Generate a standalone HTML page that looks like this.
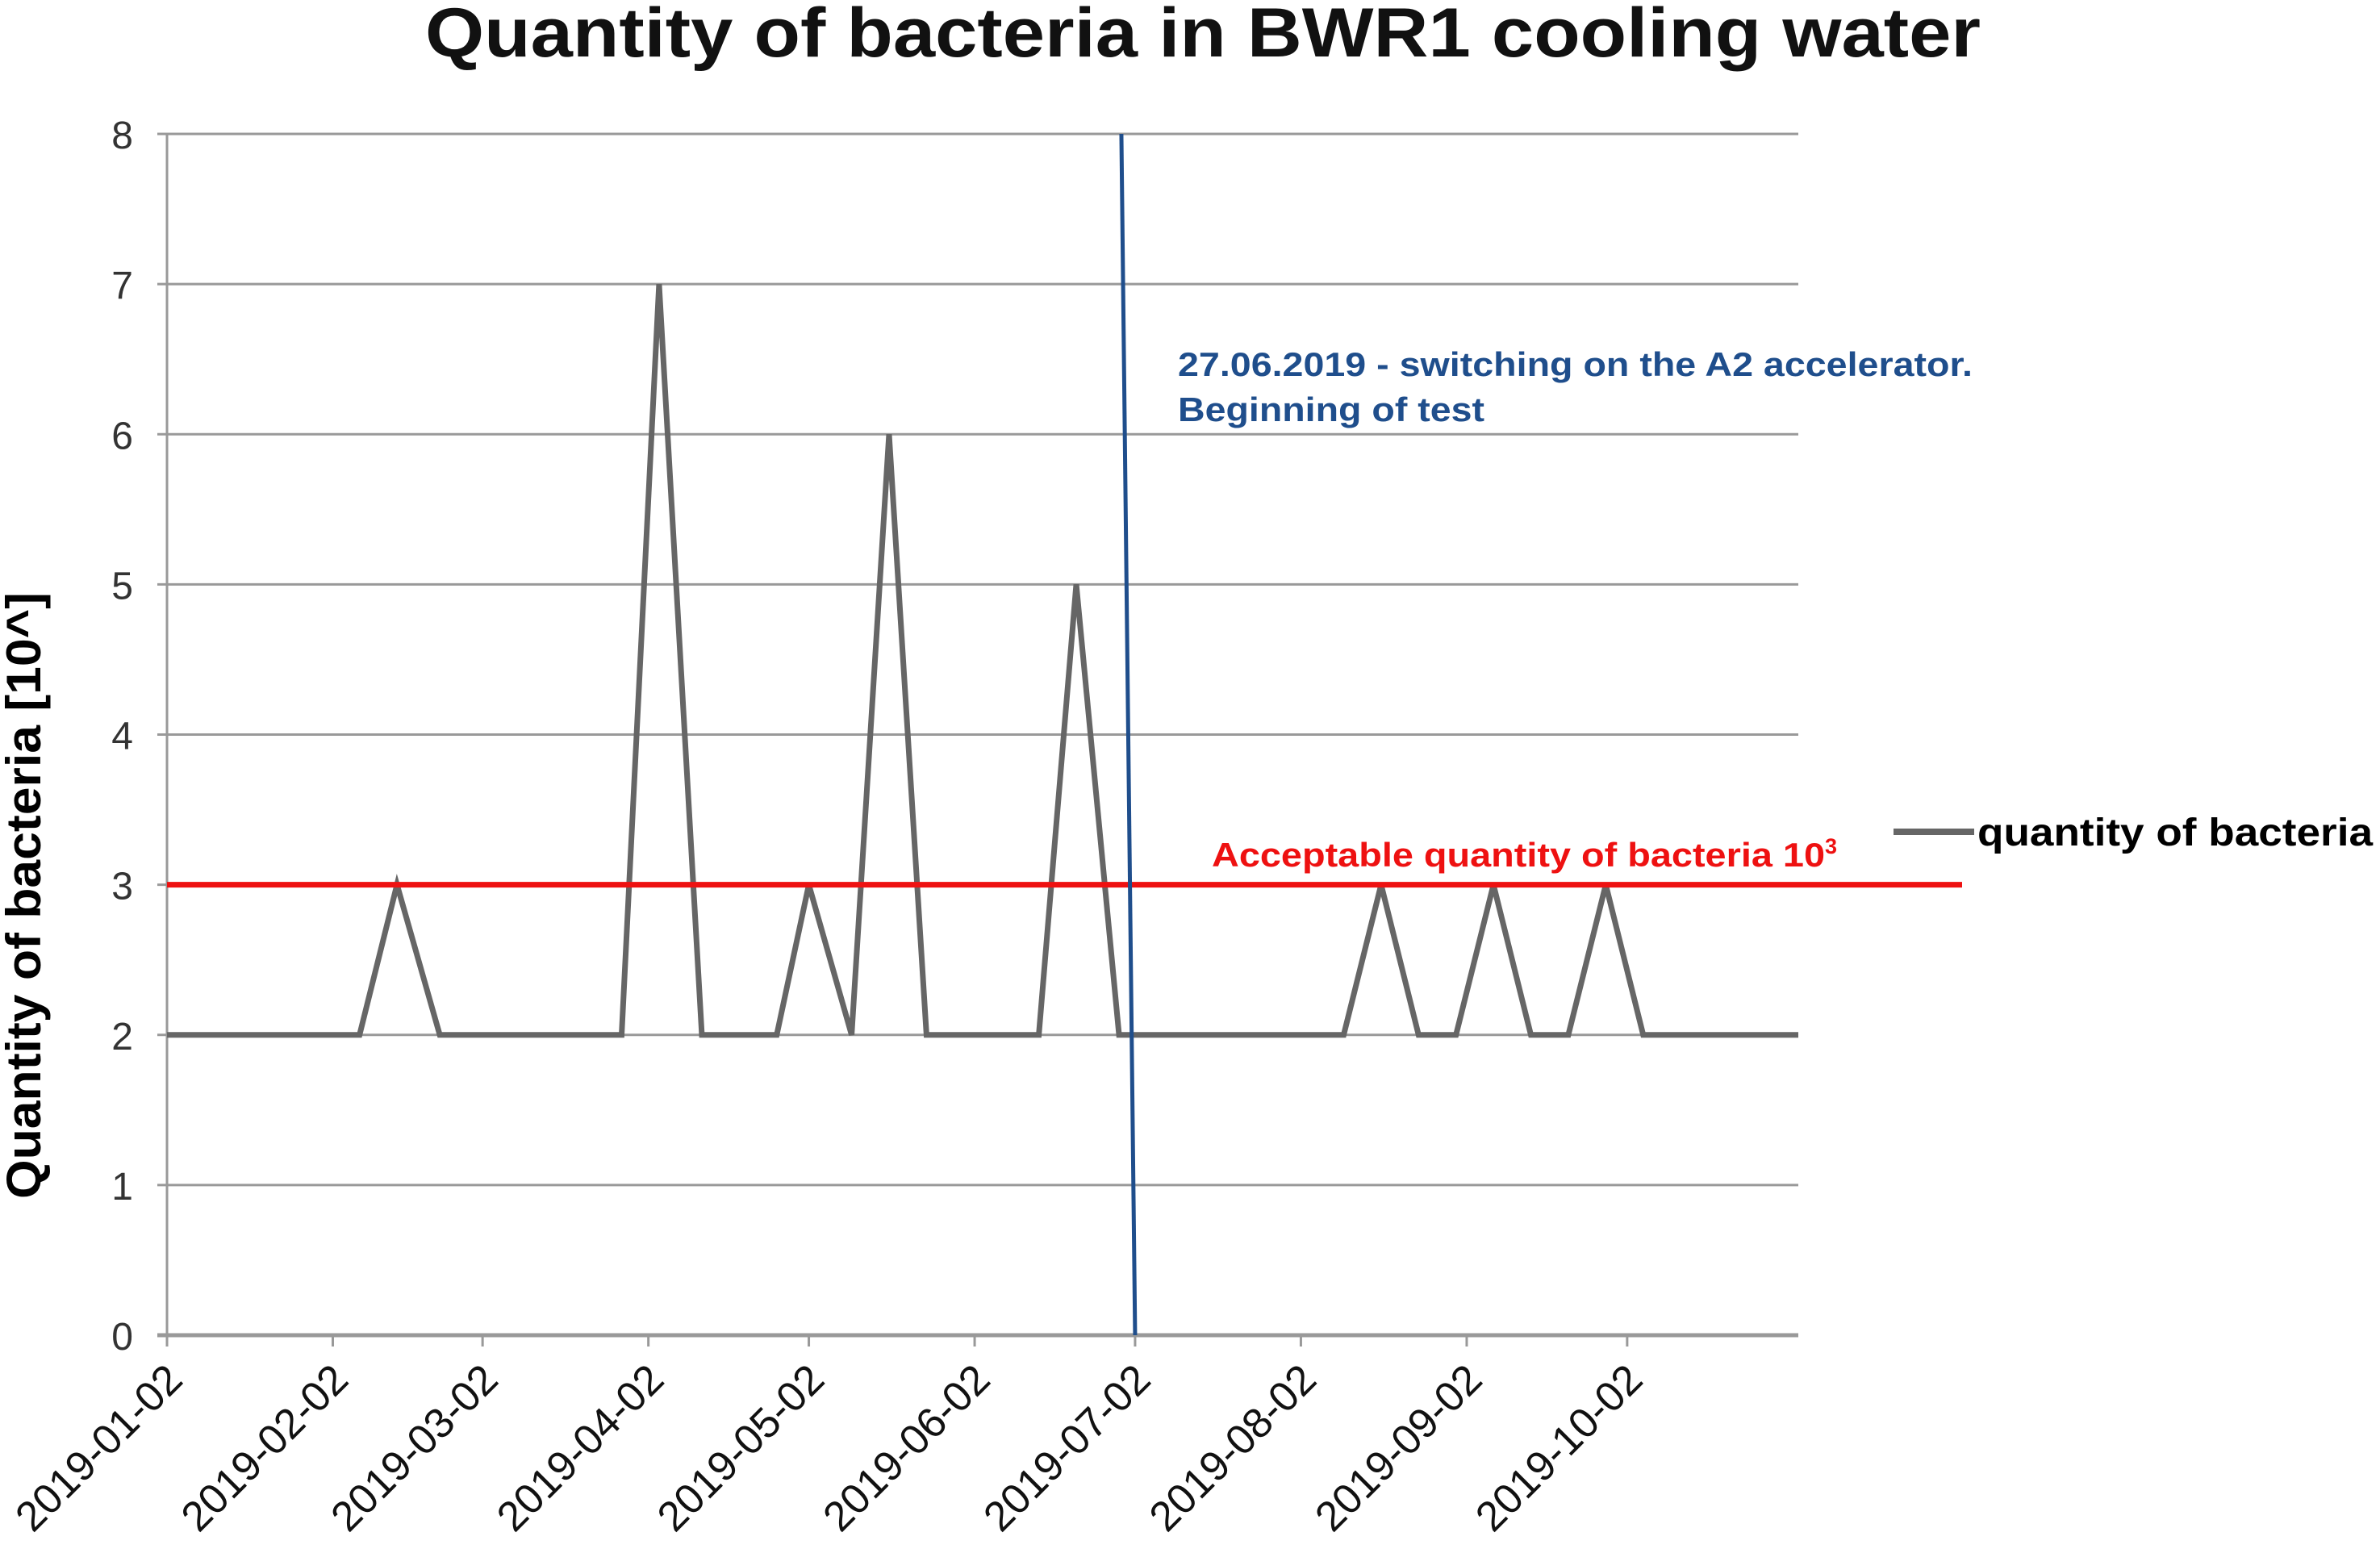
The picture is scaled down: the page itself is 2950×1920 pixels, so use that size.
<!DOCTYPE html>
<html><head><meta charset="utf-8"><style>
html,body{margin:0;padding:0;background:#fff;width:2950px;height:1920px;overflow:hidden}
svg{display:block;font-family:"Liberation Sans",Arial,sans-serif}
</style></head><body>
<svg id="chart" width="2950" height="1920" viewBox="0 0 2950 1920" xmlns="http://www.w3.org/2000/svg">
<text x="527" y="70" font-size="86" font-weight="bold" fill="#111" textLength="1928" lengthAdjust="spacingAndGlyphs">Quantity of bacteria in BWR1 cooling water</text>
<text transform="translate(50,1110) rotate(-90)" font-size="60" font-weight="bold" text-anchor="middle" fill="#000" textLength="752" lengthAdjust="spacingAndGlyphs">Quantity of bacteria [10^]</text>
<g id="grid"></g><g id="xticks"></g><g id="yticks"></g><g id="series"></g>
<line id="thr" stroke="#ee1111" stroke-width="7"/>
<text x="1502" y="1074" font-size="42" font-weight="bold" fill="#ee1111"><tspan textLength="760" lengthAdjust="spacingAndGlyphs">Acceptable quantity of bacteria 10</tspan><tspan font-size="27" dy="-16">3</tspan></text>
<line id="vline" stroke="#1f4e8c" stroke-width="5"/>
<text x="1460" y="466" font-size="42" font-weight="bold" fill="#1f4e8c" textLength="985" lengthAdjust="spacingAndGlyphs">27.06.2019 - switching on the A2 accelerator.</text>
<text x="1460" y="522" font-size="42" font-weight="bold" fill="#1f4e8c" textLength="380" lengthAdjust="spacingAndGlyphs">Beginning of test</text>
<line x1="2347" y1="1031" x2="2447" y2="1031" stroke="#666" stroke-width="8"/>
<text x="2451" y="1048" font-size="48" font-weight="bold" fill="#000" textLength="490" lengthAdjust="spacingAndGlyphs">quantity of bacteria</text>
</svg>
<script>
const tickLabels=["2019-01-02","2019-02-02","2019-03-02","2019-04-02","2019-05-02","2019-06-02","2019-07-02","2019-08-02","2019-09-02","2019-10-02"];
const tickDays=[0,31,59,90,120,151,181,212,243,273];
const yTicks=[0,1,2,3,4,5,6,7,8];
const days=[0,36,43,51,85,92,100,114,120,128,135,142,163,170,178,220,227,234,241,248,255,262,269,276,305];
const values=[2,2,3,2,2,7,2,2,3,2,6,2,2,5,2,2,3,2,2,3,2,2,3,2,2];
const threshold=3;
const testStartDay=181;
const NS="http://www.w3.org/2000/svg";
const L=207,R=2229,T=166,B=1655,maxDay=305;
const x=d=>L+d*(R-L)/maxDay, y=v=>B-v*(B-T)/8;
function mk(t,a,p){const e=document.createElementNS(NS,t);for(const k in a)e.setAttribute(k,a[k]);p.appendChild(e);return e;}
const grid=document.getElementById('grid'),yt=document.getElementById('yticks'),xt=document.getElementById('xticks');
yTicks.forEach(v=>{
 const g=mk('line',{x1:L-12,x2:R,y1:y(v),y2:y(v),stroke:'#999','stroke-width':v===0?5:3},grid);
 
 
 const t=mk('text',{x:165,y:y(v)+18,'font-size':48,'text-anchor':'end',fill:'#333'},yt);
 t.textContent=v;
 
 
});
mk('line',{x1:L,x2:L,y1:T,y2:B+12,stroke:'#999','stroke-width':3},grid);
tickDays.forEach((d,i)=>{
 const tk=mk('line',{x1:x(d),x2:x(d),y1:B,y2:B+14,stroke:'#999','stroke-width':3},xt);
 
 
 const t=mk('text',{transform:`translate(${x(d)+22},${B+58}) rotate(-45)`,'font-size':52,'text-anchor':'end',fill:'#111'},xt);
 t.textContent=tickLabels[i];
 
 
});
const pts=days.map((d,i)=>x(d)+','+y(values[i])).join(' ');
const pl=mk('polyline',{points:pts,fill:'none',stroke:'#666','stroke-width':7,'stroke-linejoin':'miter'},document.getElementById('series'));


const th=document.getElementById('thr');
th.setAttribute('x1',L);th.setAttribute('x2',2432);th.setAttribute('y1',y(threshold));th.setAttribute('y2',y(threshold));
const vl=document.getElementById('vline');
vl.setAttribute('x1',x(testStartDay)-17);vl.setAttribute('y1',T);vl.setAttribute('x2',x(testStartDay));vl.setAttribute('y2',B);
</script>
</body></html>
